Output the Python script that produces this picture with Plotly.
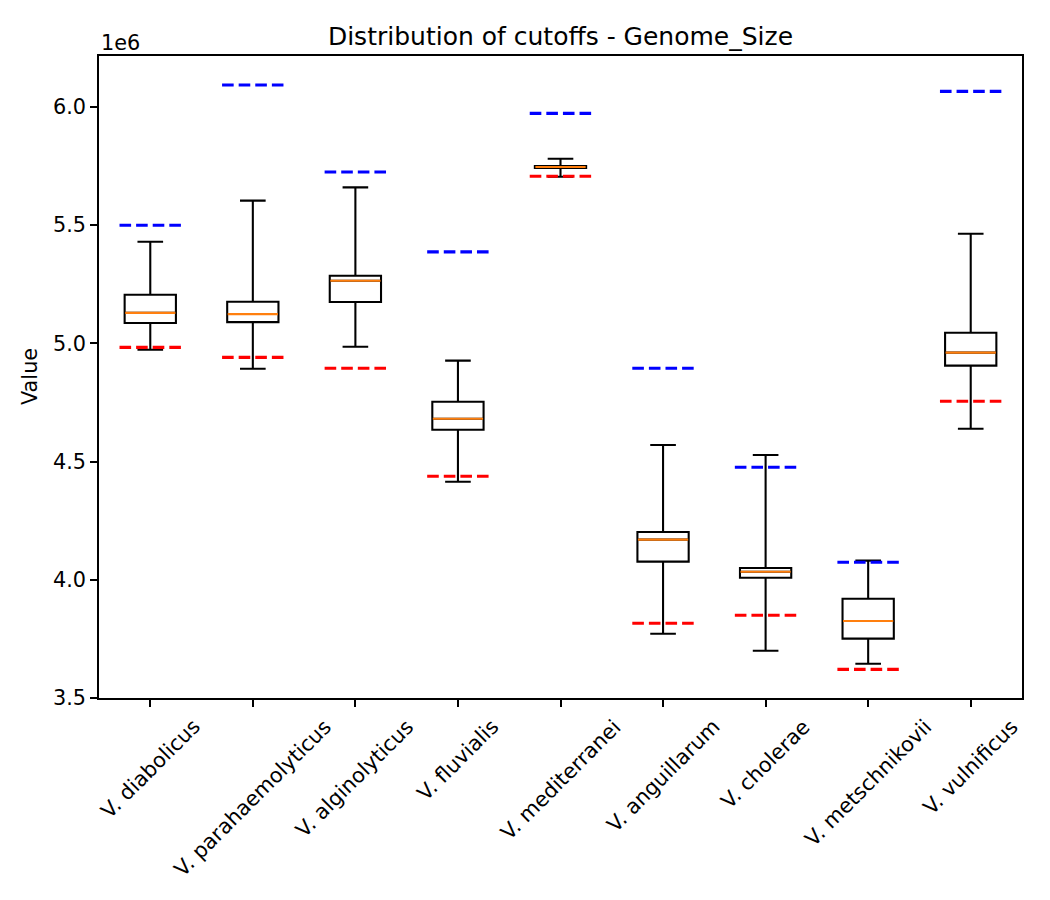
import plotly.graph_objects as go

species = ["V. diabolicus", "V. parahaemolyticus", "V. alginolyticus", "V. fluvialis",
           "V. mediterranei", "V. anguillarum", "V. cholerae", "V. metschnikovii", "V. vulnificus"]
whisker_low = [4.973e6, 4.893e6, 4.986e6, 4.415e6, 5.705e6, 3.772e6, 3.700e6, 3.645e6, 4.639e6]
q1 =          [5.086e6, 5.090e6, 5.175e6, 4.635e6, 5.742e6, 4.077e6, 4.009e6, 3.751e6, 4.906e6]
median =      [5.129e6, 5.124e6, 5.265e6, 4.681e6, 5.746e6, 4.170e6, 4.034e6, 3.826e6, 4.961e6]
q3 =          [5.206e6, 5.176e6, 5.286e6, 4.753e6, 5.750e6, 4.202e6, 4.050e6, 3.920e6, 5.045e6]
whisker_high = [5.430e6, 5.604e6, 5.660e6, 4.927e6, 5.781e6, 4.570e6, 4.528e6, 4.081e6, 5.464e6]
upper_cutoff = [5.500e6, 6.093e6, 5.725e6, 5.387e6, 5.973e6, 4.895e6, 4.476e6, 4.074e6, 6.066e6]
lower_cutoff = [4.983e6, 4.941e6, 4.895e6, 4.438e6, 5.707e6, 3.816e6, 3.850e6, 3.621e6, 4.755e6]
ytick_vals = [3.5e6, 4.0e6, 4.5e6, 5.0e6, 5.5e6, 6.0e6]
ytick_text = ["3.5", "4.0", "4.5", "5.0", "5.5", "6.0"]

pos = list(range(1, len(species) + 1))
FONT = "DejaVu Sans"
FS = 20.8

def segments(values, half):
    xs, ys = [], []
    for p, v in zip(pos, values):
        xs += [p - half, p + half, None]
        ys += [v, v, None]
    return xs, ys

fig = go.Figure()
fig.add_trace(go.Box(
    x=pos, q1=q1, median=median, q3=q3, lowerfence=whisker_low, upperfence=whisker_high,
    width=0.5, whiskerwidth=0.5, boxpoints=False,
    line=dict(color="black", width=2.08), fillcolor="white", showlegend=False,
    hoverinfo="skip"))

mx, my = segments(median, 0.245)
fig.add_trace(go.Scatter(x=mx, y=my, mode="lines", line=dict(color="#ff7f0e", width=2.1),
                         showlegend=False, hoverinfo="skip"))
ux, uy = segments(upper_cutoff, 0.3)
fig.add_trace(go.Scatter(x=ux, y=uy, mode="lines",
                         line=dict(color="blue", width=3.1, dash="11.6px,5px"),
                         showlegend=False, hoverinfo="skip"))
lx, ly = segments(lower_cutoff, 0.3)
fig.add_trace(go.Scatter(x=lx, y=ly, mode="lines",
                         line=dict(color="red", width=3.1, dash="11.6px,5px"),
                         showlegend=False, hoverinfo="skip"))

annotations = []
for p, name in zip(pos, species):
    annotations.append(dict(x=p, xref="x", y=0, yref="paper", text=name, showarrow=False,
                            textangle=-45, xanchor="center", yanchor="top", yshift=-14,
                            font=dict(family=FONT, size=FS, color="black")))
annotations.append(dict(x=0, xref="paper", y=1, yref="paper", text="1e6", showarrow=False,
                        xanchor="left", yanchor="bottom", yshift=-1,
                        font=dict(family=FONT, size=FS, color="black")))
annotations.append(dict(x=0, xref="paper", y=0.5, yref="paper", text="Value", showarrow=False,
                        xanchor="center", yanchor="middle", xshift=-69, textangle=-90,
                        font=dict(family=FONT, size=FS, color="black")))

fig.update_layout(
    width=1050, height=900,
    margin=dict(l=99, r=28, t=56, b=202),
    paper_bgcolor="white", plot_bgcolor="white",
    title=dict(text="Distribution of cutoffs - Genome_Size", x=0.5, xref="paper",
               y=1 - 36 / 900, yref="container", xanchor="center", yanchor="middle",
               font=dict(family=FONT, size=25, color="black")),
    font=dict(family=FONT, size=FS, color="black"),
    annotations=annotations,
)
fig.update_xaxes(range=[0.5, 9.5], tickvals=pos, showticklabels=False, ticks="outside",
                 ticklen=7, tickwidth=1.67, tickcolor="black", showline=True, linecolor="black",
                 linewidth=1.67, mirror=True, showgrid=False, zeroline=False)
fig.update_yaxes(range=[3.5e6, 6.2157e6], tickvals=ytick_vals, ticktext=ytick_text,
                 ticks="outside", ticklen=7, tickwidth=1.67, tickcolor="black", showline=True,
                 linecolor="black", linewidth=1.67, mirror=True, showgrid=False, zeroline=False,
                 tickfont=dict(family=FONT, size=FS, color="black"))

fig.write_html("out.html")
